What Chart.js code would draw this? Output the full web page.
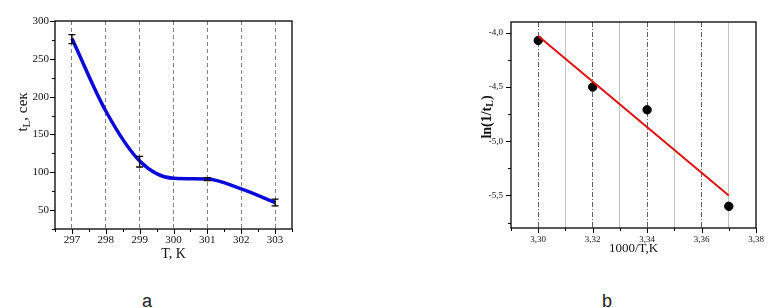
<!DOCTYPE html>
<html>
<head>
<meta charset="utf-8">
<script src="https://cdn.jsdelivr.net/npm/chart.js@4"></script>
<style>
  body { margin: 0; background: #fff; width: 771px; height: 308px; position: relative; overflow: hidden; }
  canvas { position: absolute; top: 0; }
  #chartA { left: 0; }
  #chartB { left: 440px; }
  .cap { position: absolute; font: 18px "Liberation Sans", sans-serif; line-height: 18px; color: #222; top: 292px; }
</style>
</head>
<body>
<canvas id="chartA" width="310" height="270"></canvas>
<canvas id="chartB" width="331" height="270"></canvas>
<div class="cap" style="left:142px">a</div>
<div class="cap" style="left:602px">b</div>
<script>
// chart a: induction time vs temperature
var tempK = [297, 298, 299, 300, 301, 302, 303];
var tL = [277, 181, 115, 92, 91, 78, 60];
var errT = [297, 299, 301, 303];
var errMean = [276, 114, 91, 60];
var errSize = [6, 7, 2, 4.5];
var xTicksA = [296.5, 297, 297.5, 298, 298.5, 299, 299.5, 300, 300.5, 301, 301.5, 302, 302.5, 303, 303.5];
var yTicksA = [25, 50, 75, 100, 125, 150, 175, 200, 225, 250, 275, 300];

// chart b: arrhenius plot
var invT = [3.30, 3.32, 3.34, 3.37];
var lnInv = [-4.07, -4.50, -4.71, -5.60];
var fitX = [3.30, 3.37];
var fitY = [-4.03, -5.50];
var xTicksB = [3.29, 3.30, 3.31, 3.32, 3.33, 3.34, 3.35, 3.36, 3.37, 3.38];
var yTicksB = [-5.75, -5.5, -5.25, -5.0, -4.75, -4.5, -4.25, -4.0];

var serif = '"Liberation Serif", "Times New Roman", serif';

// frame + tick marks drawn outward
var framePlugin = {
    id: 'frame',
    afterDraw: function(chart) {
        var ctx = chart.ctx, a = chart.chartArea;
        ctx.save();
        ctx.strokeStyle = '#000';
        ctx.lineWidth = 1.3;
        ctx.strokeRect(a.left, a.top, a.right - a.left, a.bottom - a.top);
        ctx.lineWidth = 1;
        var xs = chart.scales.x, ys = chart.scales.y;
        xs.ticks.forEach(function(t) {
            var px = Math.round(xs.getPixelForValue(t.value)) + 0.5;
            var len = t.label !== '' ? 5 : 3;
            ctx.beginPath(); ctx.moveTo(px, a.bottom); ctx.lineTo(px, a.bottom + len); ctx.stroke();
        });
        ys.ticks.forEach(function(t) {
            var py = Math.round(ys.getPixelForValue(t.value)) + 0.5;
            var len = t.label !== '' ? 5 : 3;
            ctx.beginPath(); ctx.moveTo(a.left, py); ctx.lineTo(a.left - len, py); ctx.stroke();
        });
        ctx.restore();
    }
};

function drawSubTitle(ctx, x, y, parts, rotate) {
    ctx.save();
    ctx.translate(x, y);
    if (rotate) ctx.rotate(-Math.PI / 2);
    var w = 0;
    parts.forEach(function(p) { ctx.font = p.font; w += ctx.measureText(p.text).width; });
    var cx = -w / 2;
    ctx.fillStyle = '#111';
    ctx.textBaseline = 'alphabetic';
    ctx.textAlign = 'left';
    parts.forEach(function(p) {
        ctx.font = p.font;
        ctx.fillText(p.text, cx, 5 + (p.dy || 0));
        cx += ctx.measureText(p.text).width;
    });
    ctx.restore();
}

var titlesA = {
    id: 'titlesA',
    afterDraw: function(chart) {
        var ctx = chart.ctx, a = chart.chartArea;
        drawSubTitle(ctx, 22, 112, [
            {text: 't', font: '15px ' + serif},
            {text: 'L', font: '11px ' + serif, dy: 3},
            {text: ', сек', font: '15px ' + serif}
        ], true);
        drawSubTitle(ctx, (a.left + a.right) / 2, 253, [{text: 'T, K', font: '14px ' + serif}], false);
    }
};

var errorBars = {
    id: 'errorBars',
    afterDatasetsDraw: function(chart) {
        var ctx = chart.ctx, xs = chart.scales.x, ys = chart.scales.y;
        ctx.save();
        ctx.strokeStyle = '#000';
        ctx.lineWidth = 1.3;
        errT.forEach(function(t, i) {
            var px = xs.getPixelForValue(t);
            var top = ys.getPixelForValue(errMean[i] + errSize[i]);
            var bot = ys.getPixelForValue(errMean[i] - errSize[i]);
            ctx.beginPath();
            ctx.moveTo(px, top); ctx.lineTo(px, bot);
            ctx.moveTo(px - 3.5, top); ctx.lineTo(px + 3.5, top);
            ctx.moveTo(px - 3.5, bot); ctx.lineTo(px + 3.5, bot);
            ctx.stroke();
        });
        ctx.restore();
    }
};

var titlesB = {
    id: 'titlesB',
    afterDraw: function(chart) {
        var ctx = chart.ctx, a = chart.chartArea;
        drawSubTitle(ctx, 46, 117, [
            {text: 'ln(1/t', font: 'bold 14px ' + serif},
            {text: 'L', font: 'bold 10px ' + serif, dy: 2},
            {text: ')', font: 'bold 14px ' + serif}
        ], true);
        drawSubTitle(ctx, (a.left + a.right) / 2, 247, [{text: '1000/T,K', font: '13px ' + serif}], false);
    }
};

new Chart(document.getElementById('chartA'), {
    type: 'line',
    data: {
        datasets: [{
            data: tempK.map(function(t, i) { return {x: t, y: tL[i]}; }),
            borderColor: '#0808d8',
            borderWidth: 3.5,
            pointRadius: 0,
            cubicInterpolationMode: 'monotone',
            fill: false
        }]
    },
    options: {
        responsive: false,
        animation: false,
        events: [],
        layout: { padding: {left: 0, top: 21, right: 18, bottom: 0} },
        plugins: { legend: {display: false}, tooltip: {enabled: false} },
        scales: {
            x: {
                type: 'linear', min: 296.5, max: 303.5,
                afterBuildTicks: function(s) { s.ticks = xTicksA.map(function(v) { return {value: v}; }); },
                afterFit: function(s) { s.height = 41; },
                ticks: {
                    autoSkip: false, maxRotation: 0, padding: 5, color: '#111',
                    font: {family: serif, size: 11},
                    callback: function(v) { return Number.isInteger(v) ? String(v) : ''; }
                },
                grid: {
                    drawTicks: false,
                    color: function(c) { return c.tick && Number.isInteger(c.tick.value) ? '#808080' : 'rgba(0,0,0,0)'; }
                },
                border: { display: false, dash: function(c) { return c.type === 'tick' ? [4, 3] : []; } }
            },
            y: {
                min: 25, max: 300,
                afterBuildTicks: function(s) { s.ticks = yTicksA.map(function(v) { return {value: v}; }); },
                afterFit: function(s) { s.width = 55; },
                ticks: {
                    autoSkip: false, padding: 6, color: '#111',
                    font: {family: serif, size: 11},
                    callback: function(v) { return v % 50 === 0 ? String(v) : ''; }
                },
                grid: { display: false, drawTicks: false },
                border: { display: false }
            }
        }
    },
    plugins: [framePlugin, errorBars, titlesA]
});

new Chart(document.getElementById('chartB'), {
    type: 'scatter',
    data: {
        datasets: [{
            type: 'line',
            data: fitX.map(function(x, i) { return {x: x, y: fitY[i]}; }),
            borderColor: '#e01010',
            borderWidth: 2,
            pointRadius: 0,
            fill: false
        }, {
            data: invT.map(function(x, i) { return {x: x, y: lnInv[i]}; }),
            backgroundColor: '#000',
            borderColor: '#000',
            pointRadius: 4.2
        }]
    },
    options: {
        responsive: false,
        animation: false,
        events: [],
        layout: { padding: {left: 0, top: 22, right: 15, bottom: 0} },
        plugins: { legend: {display: false}, tooltip: {enabled: false} },
        scales: {
            x: {
                type: 'linear', min: 3.29, max: 3.38,
                afterBuildTicks: function(s) { s.ticks = xTicksB.map(function(v) { return {value: v}; }); },
                afterFit: function(s) { s.height = 42; },
                ticks: {
                    autoSkip: false, maxRotation: 0, padding: 6, color: '#111',
                    font: {family: serif, size: 9},
                    callback: function(v) {
                        var k = Math.round(v * 100);
                        return (k % 2 === 0 && k >= 330) ? v.toFixed(2).replace('.', ',') : '';
                    }
                },
                grid: {
                    drawTicks: false,
                    color: function(c) {
                        if (!c.tick) return 'rgba(0,0,0,0)';
                        var k = Math.round(c.tick.value * 100);
                        if (k === 329 || k === 338) return 'rgba(0,0,0,0)';
                        return k % 2 === 0 ? '#606060' : '#c4c4c4';
                    }
                },
                border: {
                    display: false,
                    dash: function(c) {
                        if (c.type !== 'tick') return [];
                        return Math.round(c.tick.value * 100) % 2 === 0 ? [5, 2, 1, 2] : [];
                    }
                }
            },
            y: {
                min: -5.8, max: -3.9,
                afterBuildTicks: function(s) { s.ticks = yTicksB.map(function(v) { return {value: v}; }); },
                afterFit: function(s) { s.width = 71; },
                ticks: {
                    autoSkip: false, padding: 8, color: '#111',
                    font: {family: serif, size: 9},
                    callback: function(v) {
                        var k = Math.round(v * 100);
                        return k % 50 === 0 ? v.toFixed(1).replace('.', ',') : '';
                    }
                },
                grid: { display: false, drawTicks: false },
                border: { display: false }
            }
        }
    },
    plugins: [framePlugin, titlesB]
});
</script>
</body>
</html>
